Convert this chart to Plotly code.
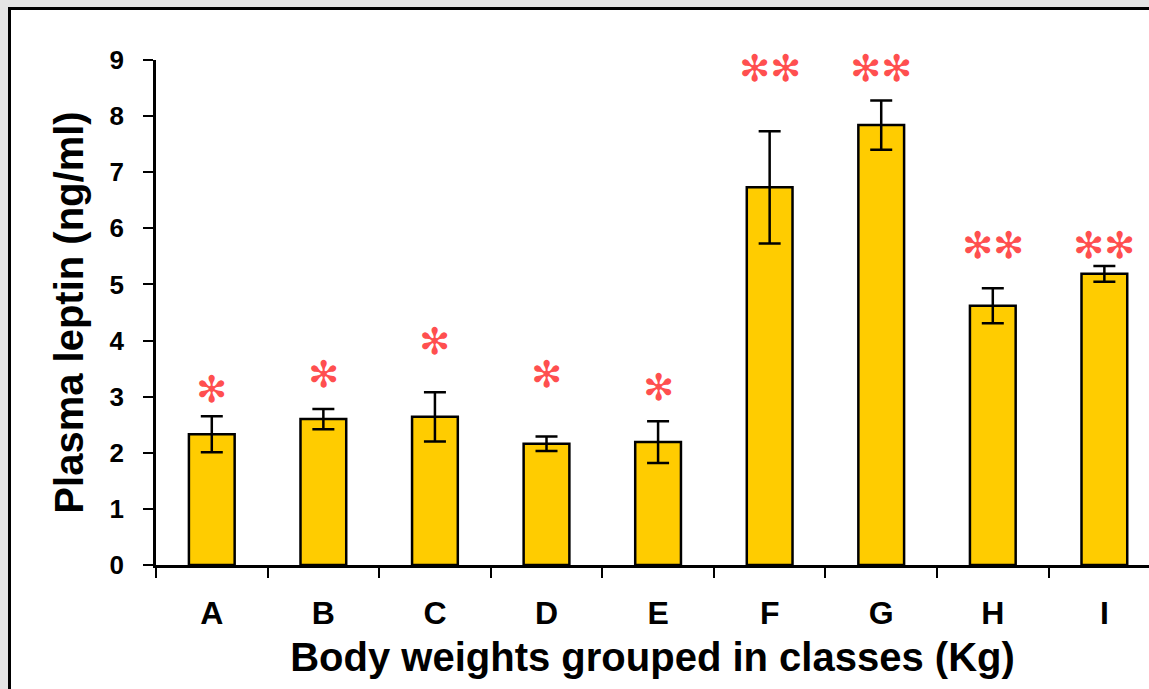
import plotly.graph_objects as go

# Plasma leptin by body-weight class
classes = ["A", "B", "C", "D", "E", "F", "G", "H", "I"]
leptin_mean = [2.33, 2.60, 2.64, 2.16, 2.19, 6.73, 7.84, 4.62, 5.19]
leptin_sem = [0.32, 0.18, 0.44, 0.13, 0.37, 1.00, 0.44, 0.31, 0.14]
signif_marks = ["✻", "✻", "✻", "✻", "✻", "✻✻", "✻✻", "✻✻", "✻✻"]
signif_y = [3.12, 3.39, 3.99, 3.39, 3.16, 8.84, 8.84, 5.70, 5.70]

W, H = 1149, 689
ML, MR, MT, MB = 156, 0, 60, 124
pw, ph = W - ML - MR, H - MT - MB

fig = go.Figure()
fig.add_trace(go.Bar(
    x=classes, y=leptin_mean, width=0.41,
    marker=dict(color="#FFCC00", line=dict(color="black", width=2.5)),
    error_y=dict(type="data", array=leptin_sem, visible=True,
                 color="black", thickness=2.5, width=11),
    showlegend=False,
))

for c, m, y in zip(classes, signif_marks, signif_y):
    fig.add_annotation(x=c, y=y, text=m, showarrow=False,
                       xanchor="center", yanchor="middle",
                       font=dict(family="DejaVu Sans", size=37, color="#FF4F4F"))

# white panel with black frame over a grey surround
def px_to_paper_x(px):
    return (px - ML) / pw

def px_to_paper_y(py):
    return (H - MB - py) / ph

fig.add_shape(type="rect", xref="paper", yref="paper", layer="below",
              x0=px_to_paper_x(9.5), x1=px_to_paper_x(1300),
              y0=px_to_paper_y(900), y1=px_to_paper_y(8.5),
              fillcolor="white", line=dict(color="black", width=3))

font_family = "Liberation Sans, Arial"
title_font = dict(family=font_family, size=40, color="black")

fig.update_layout(
    width=W, height=H,
    margin=dict(l=ML, r=MR, t=MT, b=MB, autoexpand=False),
    paper_bgcolor="#e4e4e4", plot_bgcolor="rgba(0,0,0,0)",
    font=dict(family=font_family, color="black"),
    bargap=0.59,
    xaxis=dict(
        range=[-0.5, 8.4], type="category",
        showline=True, linecolor="black", linewidth=2.5,
        ticks="outside", ticklen=10, tickwidth=2, tickcolor="black",
        tickson="boundaries",
        tickfont=dict(family=font_family, size=32, color="black", weight="bold"),
        ticklabelstandoff=18,
        showgrid=False, zeroline=False,
        title=dict(text="<b>Body weights grouped in classes (Kg)</b>",
                   font=title_font, standoff=13),
    ),
    yaxis=dict(
        range=[0, 9], dtick=1,
        showline=True, linecolor="black", linewidth=2.5,
        ticks="outside", ticklen=10, tickwidth=2, tickcolor="black",
        tickfont=dict(family=font_family, size=26, color="black", weight="bold"),
        ticklabelstandoff=14,
        showgrid=False, zeroline=False,
        title=dict(text="<b>Plasma leptin (ng/ml)</b>",
                   font=title_font, standoff=14),
    ),
)

fig.write_html("out.html")
